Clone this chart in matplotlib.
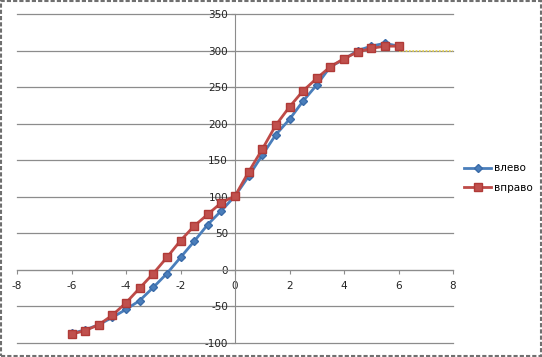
import matplotlib.pyplot as plt
from matplotlib.patches import Rectangle

# data
x_vals = [-6, -5.5, -5, -4.5, -4, -3.5, -3, -2.5, -2, -1.5, -1, -0.5, 0,
          0.5, 1, 1.5, 2, 2.5, 3, 3.5, 4, 4.5, 5, 5.5, 6]
vlevo = [-87, -82, -75, -65, -54, -42, -24, -5, 17, 39, 62, 81, 101,
         128, 157, 185, 206, 231, 253, 278, 288, 300, 306, 310, 306]
vpravo = [-88, -83, -75, -62, -45, -25, -5, 17, 40, 60, 76, 92, 101,
          134, 165, 198, 223, 245, 262, 278, 289, 298, 303, 306, 306]
level_x = [6, 8]
level_y = [300, 300]

x_ticks = [-8, -6, -4, -2, 0, 2, 4, 6, 8]
y_ticks = [-100, -50, 0, 50, 100, 150, 200, 250, 300, 350]

blue = '#4A7EBB'
red = '#BE4B48'


def main():
    fig = plt.figure(figsize=(5.42, 3.57), dpi=100)
    ax = fig.add_axes([17 / 542, 14 / 357, 436 / 542, 329 / 357])

    for y in y_ticks:
        ax.axhline(y, color='#8C8C8C', lw=0.9, zorder=0, clip_on=False)
    ax.plot(level_x, level_y, color='#E6D34A', lw=1.2, ls=(0, (1, 1)), zorder=1)

    ax.plot(x_vals, vlevo, color=blue, lw=2, marker='D', ms=4.5,
            mfc=blue, mec='#3A6BA8', label='влево', zorder=3)
    ax.plot(x_vals, vpravo, color=red, lw=2, marker='s', ms=6.3,
            mfc='#C0504D', mec='#B03A37', label='вправо', zorder=4)

    ax.set_xlim(-8, 8)
    ax.set_ylim(-100, 350)
    ax.set_xticks(x_ticks)
    ax.set_yticks(y_ticks)
    ax.set_xticklabels([str(t) for t in x_ticks])
    ax.set_yticklabels([str(t) for t in y_ticks])

    ax.spines['left'].set_position(('data', 0))
    ax.spines['bottom'].set_position(('data', 0))
    ax.spines['right'].set_visible(False)
    ax.spines['top'].set_visible(False)
    ax.spines['left'].set_color('#8C8C8C')
    ax.spines['bottom'].set_color('#8C8C8C')
    ax.tick_params(axis='both', direction='out', length=3, color='#8C8C8C',
                   labelsize=7.5, labelcolor='#222222', pad=2)
    ax.tick_params(axis='x', pad=5)
    ax.patch.set_alpha(0)

    fig.legend(loc='center left', bbox_to_anchor=(455 / 542, 1 - 178 / 357),
               frameon=False, fontsize=7.5, handlelength=2.6, handletextpad=0.2,
               labelspacing=0.9)

    # dashed chart border like the Excel chart area
    fig.patches.append(Rectangle((1 / 542, 1 / 357), 540 / 542, 355 / 357,
                                 transform=fig.transFigure, fill=False,
                                 edgecolor='#6F6F6F', lw=1.5, ls=(0, (2, 1))))

    fig.savefig('out.png', dpi=100)


if __name__ == '__main__':
    main()
